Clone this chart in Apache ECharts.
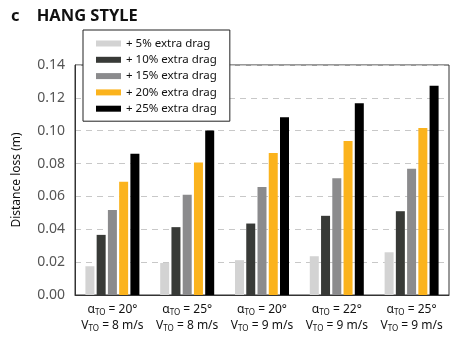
<!DOCTYPE html>
<html><head><meta charset="utf-8">
<script src="https://cdn.jsdelivr.net/npm/echarts@6/dist/echarts.min.js"></script>
<style>html,body{margin:0;padding:0;background:#fff}#c{width:457px;height:342px}</style>
</head><body><div id="c"></div>
<script>
const alphaTO = [20, 25, 20, 22, 25];
const vTO = [8, 8, 9, 9, 9];
const seriesNames = ['+ 5% extra drag', '+ 10% extra drag', '+ 15% extra drag', '+ 20% extra drag', '+ 25% extra drag'];
const drag5 = [0.0175, 0.0195, 0.0212, 0.0236, 0.0260];
const drag10 = [0.0366, 0.0413, 0.0435, 0.0482, 0.0510];
const drag15 = [0.0518, 0.0610, 0.0657, 0.0710, 0.0768];
const drag20 = [0.0689, 0.0807, 0.0864, 0.0937, 0.1016];
const drag25 = [0.0860, 0.1002, 0.1082, 0.1167, 0.1273];
const yTicks = ['0.00','0.02','0.04','0.06','0.08','0.10','0.12','0.14'];
const colors = ['#d3d3d3', '#383a37', '#8b8b8d', '#fbb31d', '#000000'];
const values = [drag5, drag10, drag15, drag20, drag25];
const categories = alphaTO.map((a, i) => a + '|' + vTO[i]);
const FONT = 'Noto Sans';

const chart = echarts.init(document.getElementById('c'));
chart.setOption({
  animation: false,
  textStyle: { fontFamily: FONT },
  title: {
    text: 'c    HANG STYLE', left: 6, top: 3,
    textStyle: { fontFamily: FONT, fontWeight: 'bold', fontSize: 16.5, color: '#111' }
  },
  legend: {
    orient: 'vertical', left: 83, top: 30,
    padding: [6, 13, 5, 13],
    itemWidth: 25, itemHeight: 6, itemGap: 1.3,
    backgroundColor: '#fff', borderColor: '#222', borderWidth: 1,
    textStyle: { fontFamily: FONT, fontSize: 11.5, color: '#111', lineHeight: 15 },
    data: seriesNames.map(n => ({ name: n, icon: 'rect' })),
    z: 10
  },
  grid: { left: 75, right: 8, top: 65, bottom: 47, show: true, borderColor: '#333', borderWidth: 1 },
  xAxis: {
    type: 'category', data: categories,
    axisLine: { lineStyle: { color: '#333' } },
    axisTick: { show: false },
    axisLabel: {
      margin: 7, interval: 0,
      formatter: v => {
        const p = v.split('|');
        return '{a|α}{s|TO}{a| = ' + p[0] + '°}\n{a|V}{s|TO}{a| = ' + p[1] + ' m/s}';
      },
      rich: {
        a: { fontFamily: FONT, fontSize: 12, color: '#111', lineHeight: 16 },
        s: { fontFamily: FONT, fontSize: 8, color: '#111', lineHeight: 16, padding: [6, 0, 0, 0] }
      }
    }
  },
  yAxis: {
    type: 'value', min: 0, max: 0.14, interval: 0.02,
    name: 'Distance loss (m)', nameLocation: 'middle', nameGap: 52, nameRotate: 90,
    nameTextStyle: { fontFamily: FONT, fontSize: 12, color: '#111' },
    axisLine: { show: true, lineStyle: { color: '#333' } },
    axisTick: { show: false },
    axisLabel: { fontFamily: FONT, fontSize: 14, color: '#555', margin: 10,
      formatter: v => yTicks[Math.round(v / 0.02)] },
    splitLine: { lineStyle: { type: [6, 5], color: '#c8c8c8' } }
  },
  series: values.map((d, i) => ({
    name: seriesNames[i], type: 'bar', data: d,
    barWidth: 9, barGap: '25%', barCategoryGap: '28%',
    itemStyle: { color: colors[i] }
  }))
});
</script></body></html>
